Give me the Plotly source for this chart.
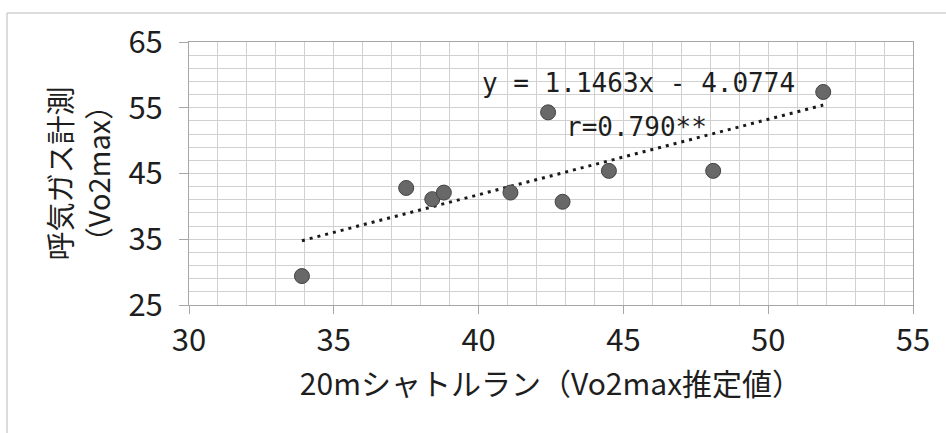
import plotly.graph_objects as go

# ---- data ----
shuttle_run = [33.9, 37.5, 38.4, 38.8, 41.1, 42.4, 42.9, 44.5, 48.1, 51.9]
gas_measured = [29.4, 42.8, 41.1, 42.1, 42.1, 54.3, 40.7, 45.4, 45.4, 57.4]
SLOPE = 1.1463
INTERCEPT = -4.0774
R_TEXT = "r=0.790**"
x_ticks = [30, 35, 40, 45, 50, 55]
y_ticks = [25, 35, 45, 55, 65]

EQ_TEXT = "y = %.4fx - %.4f" % (SLOPE, abs(INTERCEPT))
trend_x = [min(shuttle_run), max(shuttle_run)]
trend_y = [SLOPE * v + INTERCEPT for v in trend_x]

FONT = "Liberation Sans Narrow, Arial Narrow, Noto Sans CJK JP, sans-serif"
MONO = "DejaVu Sans Mono, Liberation Mono, monospace"

fig = go.Figure()
fig.add_trace(go.Scatter(
    x=trend_x, y=trend_y, mode="lines",
    line=dict(color="#1a1a1a", width=3, dash="3px,5px"),
    hoverinfo="skip", showlegend=False))
fig.add_trace(go.Scatter(
    x=shuttle_run, y=gas_measured, mode="markers",
    marker=dict(size=15, color="#686868", line=dict(color="#444444", width=1)),
    showlegend=False))

grid = "#d0d0d0"
axis_line = "#a6a6a6"

fig.update_xaxes(
    range=[30, 55], tickmode="array", tickvals=x_ticks,
    showgrid=True, gridcolor=grid, gridwidth=1,
    minor=dict(dtick=1, tick0=30, showgrid=True, gridcolor=grid, gridwidth=1),
    showline=True, linecolor=axis_line, linewidth=1, mirror=True,
    ticks="outside", ticklen=8, tickcolor=axis_line,
    tickfont=dict(family=FONT, size=31, color="#1e1e1e"),
    ticklabelstandoff=0,
    zeroline=False,
    title=dict(text="20mシャトルラン（Vo2max推定値）",
               font=dict(family=FONT, size=30, color="#1e1e1e"), standoff=4),
)
fig.update_yaxes(
    range=[25, 65], tickmode="array", tickvals=y_ticks,
    showgrid=True, gridcolor=grid, gridwidth=1,
    minor=dict(dtick=2, tick0=25, showgrid=True, gridcolor=grid, gridwidth=1),
    showline=True, linecolor=axis_line, linewidth=1, mirror=True,
    ticks="outside", ticklen=9, tickcolor=axis_line,
    tickfont=dict(family=FONT, size=31, color="#1e1e1e"),
    ticklabelstandoff=10,
    zeroline=False,
    title=dict(text="呼気ガス計測<br>（Vo2max）",
               font=dict(family=FONT, size=29, color="#1e1e1e"), standoff=9),
)

fig.add_annotation(x=40.05, y=58.7, xref="x", yref="y", text=EQ_TEXT,
                   showarrow=False, xanchor="left", yanchor="middle",
                   font=dict(family=MONO, size=26, color="#1e1e1e"))
fig.add_annotation(x=42.95, y=52.0, xref="x", yref="y", text=R_TEXT,
                   showarrow=False, xanchor="left", yanchor="middle",
                   font=dict(family=MONO, size=26, color="#1e1e1e"))

# outer chart frame (top and left edges visible in the reference crop)
L, R, T, B = 189, 33, 42, 128
W, H = 946, 433
pw, ph = W - L - R, H - T - B
fx = (7 - L) / pw
fy = (H - B - 13) / ph
fig.add_shape(type="path", xref="paper", yref="paper",
              path="M %f %f L %f %f L %f %f" % (fx, -B / ph, fx, fy, (W - L) / pw, fy),
              line=dict(color="#b8b8b8", width=1))

fig.update_layout(
    width=W, height=H,
    margin=dict(l=L, r=R, t=T, b=B, autoexpand=False),
    paper_bgcolor="white", plot_bgcolor="white",
    showlegend=False,
)

fig.write_html("out.html")
